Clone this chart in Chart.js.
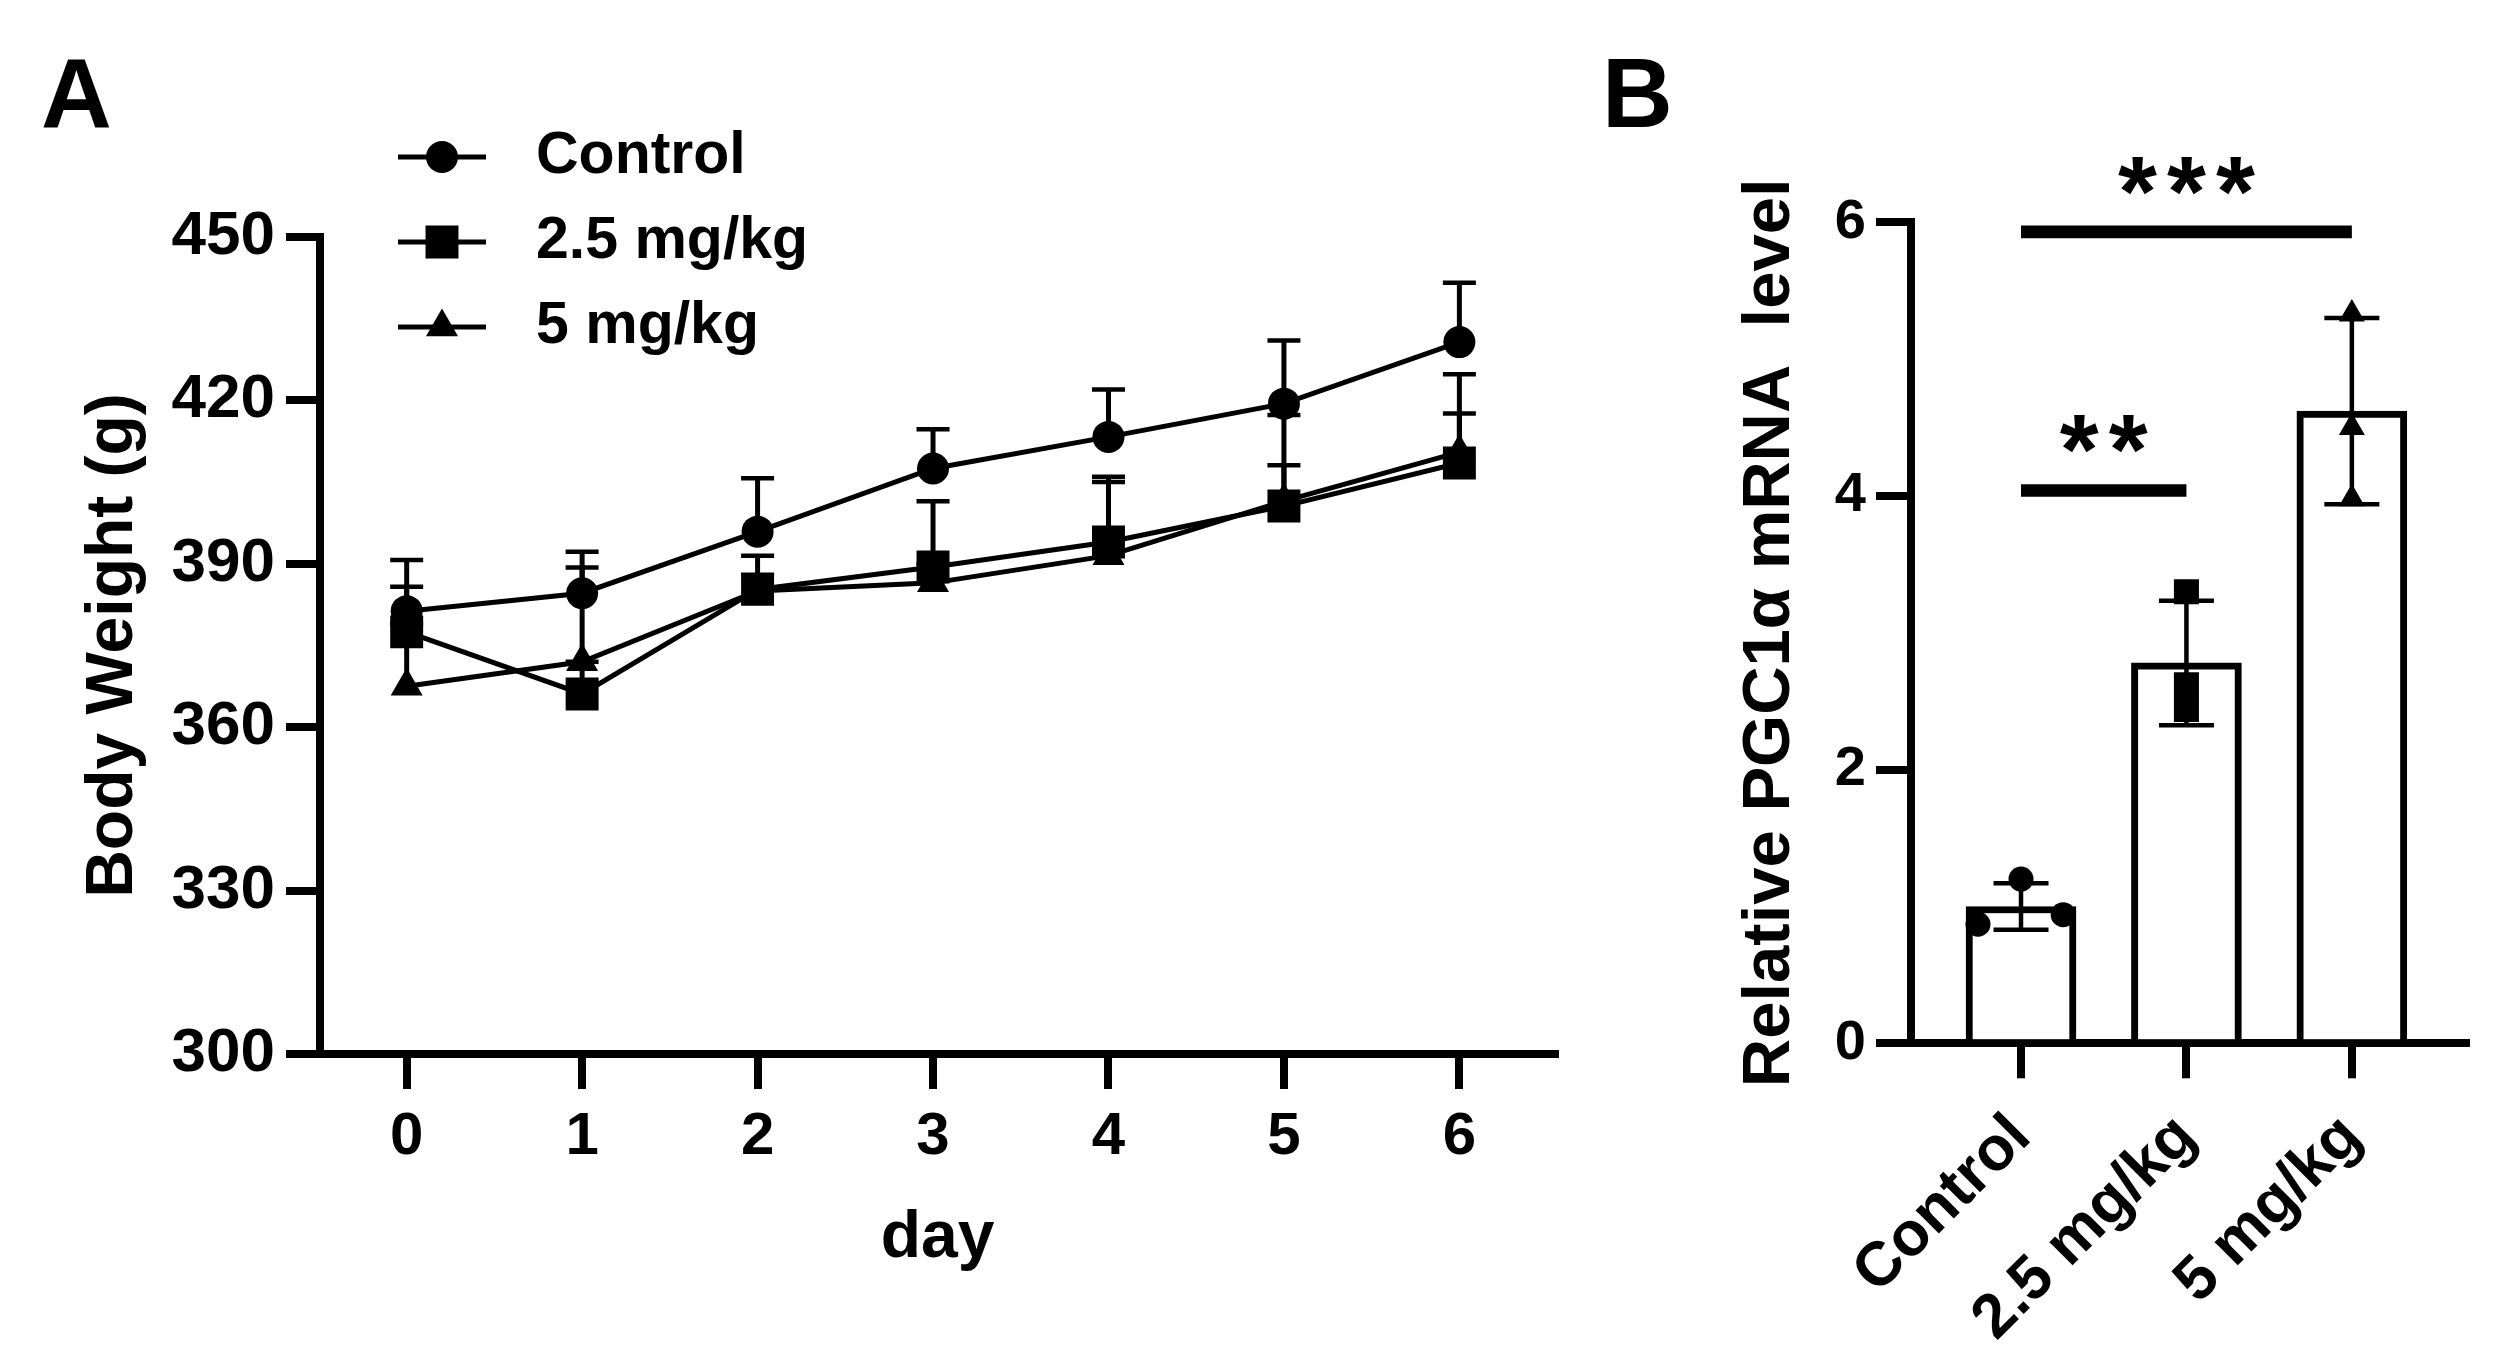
<!DOCTYPE html>
<html lang="en">
<head>
  <meta charset="UTF-8">
  <title>Body Weight and PGC1α mRNA</title>
  <script src="https://cdn.jsdelivr.net/npm/chart.js"></script>
  <style>
    html, body { margin: 0; padding: 0; background: #fff; }
    #wrap { position: relative; width: 2505px; height: 1368px; }
    #wrap canvas { position: absolute; left: 0; top: 0; }
  </style>
</head>
<body>
<div id="wrap">
  <canvas id="weight-chart" width="2505" height="1368"></canvas>
  <canvas id="pgc-chart" width="2505" height="1368"></canvas>
</div>

<script>
  // ---- Panel A: body weight (g), mean and upper end of error bar ----
  const days = [0, 1, 2, 3, 4, 5, 6];
  const controlWeight = [381.3, 384.6, 395.9, 407.5, 413.3, 419.4, 430.7];
  const controlUpper  = [390.7, 392.2, 405.7, 414.7, 422.0, 431.0, 441.6];
  const lowDoseWeight = [377.5, 366.1, 385.3, 389.4, 394.0, 400.6, 408.5];
  const lowDoseUpper  = [385.8, 372.0, 391.5, 401.5, 406.0, 408.1, 417.6];
  const highDoseWeight = [367.5, 372.0, 385.0, 386.5, 391.5, 401.5, 410.5];
  const highDoseUpper  = [379.0, 389.3, 388.0, 390.0, 405.0, 417.3, 424.8];
  const weightTicks = [300, 330, 360, 390, 420, 450];

  // ---- Panel B: relative PGC1α mRNA level ----
  const doseGroups = ['Control', '2.5 mg/kg', '5 mg/kg'];
  const pgcMean = [1.00, 2.78, 4.62];
  const pgcSD   = [0.17, 0.455, 0.68];
  const controlPts = [0.87, 1.20, 0.94];
  const controlJitter = [-0.26, 0, 0.255];
  const lowDosePts = [3.30, 2.62, 2.44];
  const highDosePts = [5.33, 4.50, 3.98];
  const pgcTicks = [0, 2, 4, 6];
  // significance bars: [from group, to group, height, label]
  const sigBars = [[0, 1, 4.04, '**'], [0, 2, 5.93, '***']];

  const FONT = "'Liberation Sans', Arial, Helvetica, sans-serif";
  Chart.defaults.font.family = FONT;
  Chart.defaults.font.weight = 'bold';
  Chart.defaults.color = '#000';

  const toXY = (xs, ys) => xs.map((x, i) => ({ x: x, y: ys[i] }));

  function line(ctx, x1, y1, x2, y2) {
    ctx.beginPath();
    ctx.moveTo(x1, y1);
    ctx.lineTo(x2, y2);
    ctx.stroke();
  }

  function axisStyle(tickLength) {
    return {
      border: { display: true, color: '#000', width: 8 },
      grid: { drawOnChartArea: false, color: '#000', lineWidth: 8, tickLength: tickLength, offset: false }
    };
  }

  // upper error bars, drawn behind the markers
  const weightErrorBars = {
    id: 'weightErrorBars',
    beforeDatasetsDraw(chart) {
      const { ctx, scales: { x, y } } = chart;
      ctx.save();
      ctx.strokeStyle = '#000';
      chart.data.datasets.forEach(ds => {
        ds.upper.forEach((u, i) => {
          const px = x.getPixelForValue(ds.data[i].x);
          const p0 = y.getPixelForValue(ds.data[i].y);
          const p1 = y.getPixelForValue(u);
          ctx.lineWidth = 5;
          line(ctx, px, p0, px, p1);
          ctx.lineWidth = 4.5;
          line(ctx, px - 16.5, p1, px + 16.5, p1);
        });
      });
      ctx.restore();
    }
  };

  // legend with line through the marker, plus the panel letter
  const weightLegend = {
    id: 'weightLegend',
    afterDraw(chart) {
      const ctx = chart.ctx;
      const rows = [157, 242, 327];
      ctx.save();
      chart.data.datasets.forEach((ds, i) => {
        const yr = rows[i];
        ctx.strokeStyle = '#000';
        ctx.lineWidth = 5;
        line(ctx, 398, yr, 486, yr);
        ctx.fillStyle = '#000';
        Chart.helpers.drawPoint(ctx, { pointStyle: ds.pointStyle, radius: ds.pointRadius, borderWidth: 0 }, 442, yr);
        ctx.font = 'bold 59px ' + FONT;
        ctx.textAlign = 'left';
        ctx.textBaseline = 'middle';
        ctx.fillText(ds.label, 536, yr);
      });
      ctx.font = 'bold 98px ' + FONT;
      ctx.textBaseline = 'alphabetic';
      ctx.fillText('A', 41, 127);
      ctx.restore();
    }
  };

  const weightSets = [
    { label: 'Control',   data: toXY(days, controlWeight),  upper: controlUpper,  pointStyle: 'circle',   pointRadius: 16 },
    { label: '2.5 mg/kg', data: toXY(days, lowDoseWeight),  upper: lowDoseUpper,  pointStyle: 'rect',     pointRadius: 23.3 },
    { label: '5 mg/kg',   data: toXY(days, highDoseWeight), upper: highDoseUpper, pointStyle: 'triangle', pointRadius: 18.5 }
  ].map(ds => Object.assign(ds, {
    borderColor: '#000', backgroundColor: '#000', borderWidth: 5,
    pointBackgroundColor: '#000', pointBorderWidth: 0, pointHoverRadius: ds.pointRadius,
    tension: 0, fill: false
  }));

  new Chart(document.getElementById('weight-chart').getContext('2d'), {
    type: 'line',
    data: { datasets: weightSets },
    options: {
      responsive: false, animation: false, devicePixelRatio: 1,
      layout: { padding: { left: 0, top: 237, right: 950, bottom: 0 } },
      plugins: { legend: { display: false }, tooltip: { enabled: false } },
      scales: {
        x: Object.assign(axisStyle(35), {
          type: 'linear', min: -0.494, max: 6.545, offset: false,
          afterFit: s => { s.height = 314; },
          ticks: { stepSize: 1, includeBounds: false, autoSkip: false, maxRotation: 0,
                   padding: 18, font: { size: 60, lineHeight: 1 } },
          title: { display: true, text: 'day', font: { size: 66, lineHeight: 1 }, padding: { top: 0, bottom: 96 } }
        }),
        y: Object.assign(axisStyle(34), {
          min: weightTicks[0], max: weightTicks[weightTicks.length - 1],
          afterFit: s => { s.width = 320; },
          afterBuildTicks: s => { s.ticks = weightTicks.map(v => ({ value: v })); },
          ticks: { padding: 11, font: { size: 62, lineHeight: 1 } },
          title: { display: true, text: 'Body Weight (g)', font: { size: 66, lineHeight: 1 }, padding: { top: 81, bottom: 0 } }
        })
      }
    },
    plugins: [weightErrorBars, weightLegend]
  });

  // ---- Panel B ----
  const pgcErrorBars = {
    id: 'pgcErrorBars',
    afterDatasetDraw(chart, args) {
      if (args.index !== 0) return;
      const { ctx, scales: { x, y } } = chart;
      ctx.save();
      ctx.strokeStyle = '#000';
      pgcMean.forEach((m, i) => {
        const px = x.getPixelForValue(i);
        const top = y.getPixelForValue(m + pgcSD[i]);
        const bot = y.getPixelForValue(m - pgcSD[i]);
        ctx.lineWidth = 4.5;
        line(ctx, px, top, px, bot);
        line(ctx, px - 27.5, top, px + 27.5, top);
        line(ctx, px - 27.5, bot, px + 27.5, bot);
      });
      ctx.restore();
    }
  };

  const pgcAnnotations = {
    id: 'pgcAnnotations',
    afterDraw(chart) {
      const { ctx, scales: { x, y } } = chart;
      ctx.save();
      ctx.strokeStyle = '#000';
      ctx.fillStyle = '#000';
      ctx.lineWidth = 12.7;
      ctx.lineCap = 'butt';
      ctx.font = 'bold 100px ' + FONT;
      const m = ctx.measureText('*');
      const glyphH = m.actualBoundingBoxAscent + m.actualBoundingBoxDescent;
      const size = 100 * 38 / glyphH;
      ctx.font = 'bold ' + size + 'px ' + FONT;
      const m2 = ctx.measureText('*');
      ctx.textAlign = 'center';
      ctx.textBaseline = 'alphabetic';
      sigBars.forEach(([a, b, h, label]) => {
        const x1 = x.getPixelForValue(a);
        const x2 = x.getPixelForValue(b);
        const py = y.getPixelForValue(h);
        line(ctx, x1, py, x2, py);
        const cx = (x1 + x2) / 2;
        const baseY = py - 37 - m2.actualBoundingBoxDescent;
        for (let k = 0; k < label.length; k++) {
          ctx.fillText('*', cx + (k - (label.length - 1) / 2) * 49, baseY);
        }
      });
      ctx.font = 'bold 98px ' + FONT;
      ctx.textAlign = 'left';
      ctx.fillText('B', 1602, 127);
      ctx.restore();
    }
  };

  const dotStyle = (style, r) => ({
    type: 'scatter', pointStyle: style, pointRadius: r, pointHoverRadius: r,
    pointBackgroundColor: '#000', pointBorderWidth: 0, backgroundColor: '#000', order: 0
  });

  new Chart(document.getElementById('pgc-chart').getContext('2d'), {
    type: 'bar',
    data: {
      datasets: [
        {
          type: 'bar', label: 'mean',
          data: toXY([0, 1, 2], pgcMean),
          backgroundColor: '#fff', borderColor: '#000', borderWidth: 7,
          barThickness: 110, order: 3
        },
        Object.assign(dotStyle('circle', 12.5), { data: toXY(controlJitter.map(j => 0 + j), controlPts) }),
        Object.assign(dotStyle('rect', 17.7),   { data: toXY([1, 1, 1], lowDosePts) }),
        Object.assign(dotStyle('triangle', 15), { data: toXY([2, 2, 2], highDosePts) })
      ]
    },
    options: {
      responsive: false, animation: false, devicePixelRatio: 1,
      layout: { padding: { left: 1640, top: 222.3, right: 39, bottom: 0 } },
      plugins: { legend: { display: false }, tooltip: { enabled: false } },
      scales: {
        x: Object.assign(axisStyle(35), {
          type: 'linear', min: -0.665, max: 2.69, offset: false,
          afterFit: s => { s.height = 324.7; },
          ticks: { stepSize: 1, includeBounds: false, autoSkip: false, minRotation: 45, maxRotation: 45,
                   padding: 40, font: { size: 62, lineHeight: 0.4 },
                   callback: v => (doseGroups[v] !== undefined ? doseGroups[v] : '') }
        }),
        y: Object.assign(axisStyle(35), {
          min: pgcTicks[0], max: pgcTicks[pgcTicks.length - 1],
          afterFit: s => { s.width = 271; },
          afterBuildTicks: s => { s.ticks = pgcTicks.map(v => ({ value: v })); },
          ticks: { padding: 10, font: { size: 56, lineHeight: 1 } },
          title: { display: true, text: 'Relative PGC1α mRNA  level', font: { size: 67, lineHeight: 1 }, padding: { top: 97.5, bottom: 0 } }
        })
      }
    },
    plugins: [pgcErrorBars, pgcAnnotations]
  });
</script>
</body>
</html>
